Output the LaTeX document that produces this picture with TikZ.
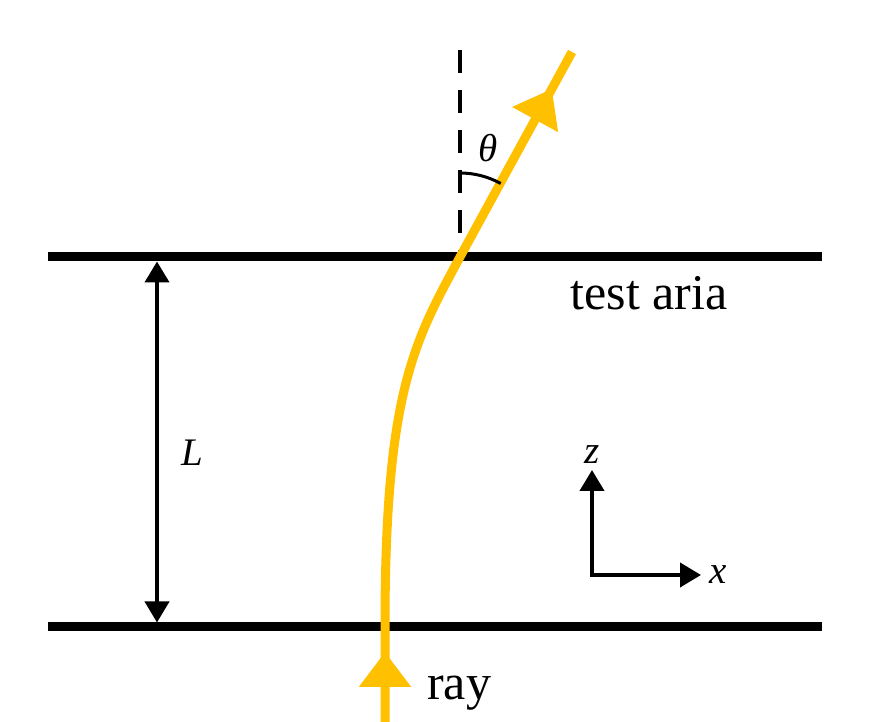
\documentclass[tikz,border=0pt]{standalone}
\usepackage{fontspec}
\setmainfont{Liberation Serif}
\usepackage{xcolor}
\usepackage{tikz}
\usetikzlibrary{arrows.meta,calc,positioning,decorations.markings}
\definecolor{RayGold}{RGB}{255,192,0}
\tikzset{
  wall/.style     ={draw=black, line width=9pt},
  raygold/.style  ={draw=RayGold, line width=9pt},
  thin/.style     ={draw=black, line width=4pt},
  raytip/.tip     ={Triangle[length=35pt,width=50pt]},
  txt/.style      ={font=\fontsize{50}{56}\selectfont, inner sep=0pt},
  sym/.style      ={font=\fontsize{39}{44}\selectfont\itshape, inner sep=0pt},
}

\begin{document}
\begin{tikzpicture}[
  x=1pt,y=1pt,
  >={Triangle[length=21pt,width=24pt]},
  line cap=butt,
  line join=miter
]
\useasboundingbox (0,0) rectangle (879,722);

% --- Walls of the test area ----------------------------------------------
\coordinate (topL) at (48,465);
\coordinate (topR) at (822,465);
\coordinate (botL) at (48,95);
\coordinate (botR) at (822,95);
\draw[wall] (topL) -- (topR);
\draw[wall] (botL) -- (botR);

\node[txt] (aria) at (649,429) {test aria};

% --- Thickness L ---------------------------------------------------------
\coordinate (Ltop) at (157,460.5);
\coordinate (Lbot) at (157,99.5);
\draw[thin, <->] (Ltop) -- (Lbot);
\node[sym] (Llab) at (192,269) {L};

% --- Normal at the exit point --------------------------------------------
\coordinate (exit) at (460,465);
\coordinate (normtop) at (460,672);
\draw[thin, dash pattern=on 23pt off 17pt] (normtop) -- (exit);

% --- Ray -----------------------------------------------------------------
\coordinate (src) at (385,0);
\coordinate (entry) at (385,95);
\coordinate (out) at (572,670);
\draw[raygold, postaction={decorate},
  decoration={markings,
    mark=at position 70pt with {\arrow{raytip}},
    mark=at position -42pt with {\arrow{raytip}}}]
  (src) -- (entry)
  .. controls (385,330) and (414,380) .. (exit)
  -- (out);

\node[txt, anchor=west] (raylab) at (427,29) {ray};

% angle theta
\draw[line width=3pt] ($(exit)+(90:84)$) arc[start angle=90, end angle=61, radius=84];
\node[sym] (thlab) at (488,574) {θ};

% --- Axes ----------------------------------------------------------------
\coordinate (O) at (592,147);
\coordinate (zend) at (592,252);
\coordinate (xend) at (701,147);
\draw[thin, <->] (zend) -- (O) -- (xend);
\node[sym, above=6pt of zend] (zlab) {z};
\node[sym, right=8pt of xend] (xlab) {x};

\end{tikzpicture}
\end{document}
